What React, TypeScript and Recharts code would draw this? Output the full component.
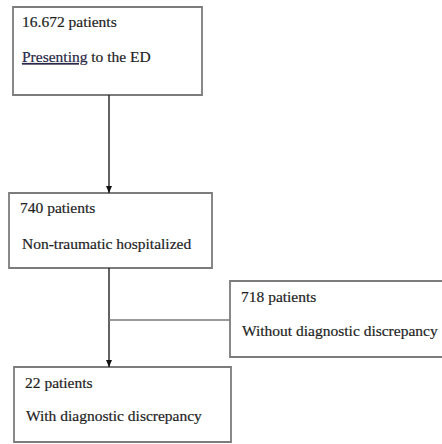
import React from 'react'
import { ScatterChart, Scatter, XAxis, YAxis, ReferenceArea, ReferenceLine } from 'recharts'

// flowchart laid out on a 442 x 444 coordinate plane (y grows downward)
const boxes = [
  { id: 'ed', x1: 13, x2: 202, y1: 7, y2: 95 },
  { id: 'hosp', x1: 9, x2: 212, y1: 193, y2: 268 },
  { id: 'without', x1: 230, x2: 452, y1: 281, y2: 357 },
  { id: 'with', x1: 14, x2: 231, y1: 367, y2: 442 },
]

const counts = [
  { x: 22, y: 27, text: '16.672 patients' },
  { x: 20, y: 213, text: '740 patients' },
  { x: 241, y: 302, text: '718 patients' },
  { x: 25, y: 388, text: '22 patients' },
]

const descriptions = [
  { x: 22, y: 62, text: 'to the ED', lead: 'Presenting' },
  { x: 22, y: 249, text: 'Non-traumatic hospitalized' },
  { x: 242, y: 336, text: 'Without diagnostic discrepancy' },
  { x: 26, y: 421, text: 'With diagnostic discrepancy' },
]

const arrows = [
  { from: { x: 109, y: 95 }, to: { x: 109, y: 193 } },
  { from: { x: 109, y: 268 }, to: { x: 109, y: 367 } },
]

const branch = [{ x: 109, y: 320 }, { x: 230, y: 320 }]

const arrowTips = arrows.map((a) => a.to)

const font = { fontFamily: '"Liberation Serif", "DejaVu Serif", serif', fontSize: 15.5 }

const TextShape = (props: any) => {
  const { cx, cy, payload } = props
  return (
    <text x={cx} y={cy} fill="#1e1e1e" stroke="#1e1e1e" strokeWidth={0.2} {...font}>
      {payload.lead && (
        <tspan textDecoration="underline" fill="#2a2a55">{payload.lead}</tspan>
      )}
      {payload.lead ? ' ' + payload.text : payload.text}
    </text>
  )
}

const ArrowHead = (props: any) => {
  const { cx, cy } = props
  return <path d={`M${cx - 3},${cy - 7} L${cx + 3},${cy - 7} L${cx},${cy} Z`} fill="#111" />
}

export default function App() {
  return (
    <div style={{ position: 'fixed', left: 0, top: 0, background: '#fff' }}>
      <ScatterChart width={442} height={444} margin={{ top: 0, right: 0, bottom: 0, left: 0 }}>
        <XAxis type="number" dataKey="x" domain={[0, 442]} hide />
        <YAxis type="number" dataKey="y" domain={[0, 444]} reversed hide />
        {boxes.map((b) => (
          <ReferenceArea
            key={b.id}
            x1={b.x1}
            x2={b.x2}
            y1={b.y1}
            y2={b.y2}
            fill="#fff"
            fillOpacity={1}
            stroke="#7c7c7c"
            strokeWidth={1.8}
            ifOverflow="visible"
          />
        ))}
        {arrows.map((a, i) => (
          <ReferenceLine key={i} segment={[a.from, a.to]} stroke="#222" strokeWidth={1.4} />
        ))}
        <ReferenceLine segment={branch} stroke="#777" strokeWidth={1.4} />
        <Scatter data={arrowTips} shape={ArrowHead} isAnimationActive={false} />
        <Scatter data={counts} shape={TextShape} isAnimationActive={false} />
        <Scatter data={descriptions} shape={TextShape} isAnimationActive={false} />
      </ScatterChart>
    </div>
  )
}
